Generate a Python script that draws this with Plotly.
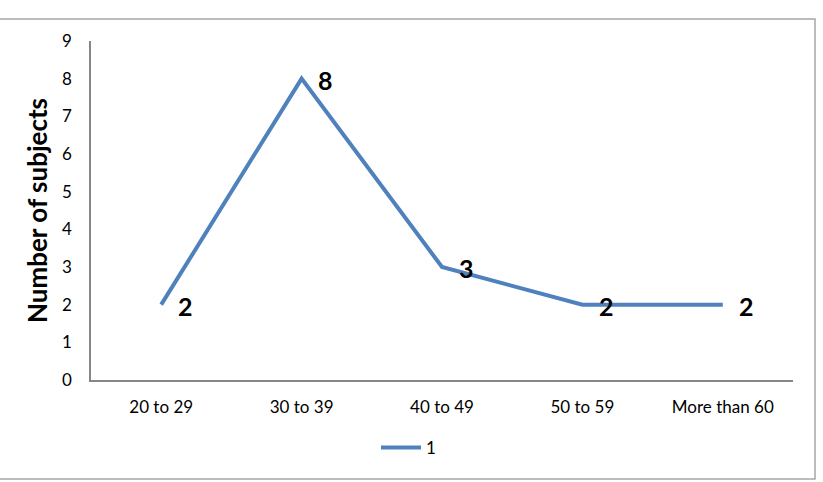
import plotly.graph_objects as go

categories = ["20 to 29", "30 to 39", "40 to 49", "50 to 59", "More than 60"]
values = [2, 8, 3, 2, 2]
series_name = "1"
y_ticks = list(range(0, 10))

W, H = 823, 482
ml, mr, mt, mb = 91, 30, 41, 102

fig = go.Figure()
fig.add_trace(go.Scatter(
    x=categories, y=values, mode="lines", name=series_name,
    line=dict(color="#4F81BD", width=4),
    showlegend=True,
))

for c, v in zip(categories, values):
    fig.add_annotation(x=c, y=v, text=f"<b>{v}</b>", showarrow=False,
                       xshift=24, yshift=-1,
                       font=dict(family="Lato", size=25, color="black"))

# outer border
pw = W - ml - mr
ph = H - mt - mb
fig.add_shape(type="rect", xref="paper", yref="paper",
              x0=(-5 - ml) / pw, x1=(815 - ml) / pw,
              y0=(H - 479 - mb) / ph, y1=(H - 19 - mb) / ph,
              line=dict(color="#A6A6A6", width=1.5), fillcolor="rgba(0,0,0,0)", layer="below")

fig.update_layout(
    width=W, height=H,
    margin=dict(l=ml, r=mr, t=mt, b=mb),
    paper_bgcolor="white", plot_bgcolor="white",
    font=dict(family="Lato", color="#262626"),
    showlegend=True,
    legend=dict(orientation="h", x=(376 - ml) / pw, xanchor="left", y=-68 / ph, yanchor="middle",
                font=dict(size=17, color="black"), itemwidth=40),
)
fig.update_xaxes(
    type="category", range=[-0.5, 4.5], showline=True, linecolor="#868686", linewidth=1.5,
    ticks="", showgrid=False, tickfont=dict(size=17, color="black"), ticklabelstandoff=11,
)
fig.update_yaxes(
    range=[0, 9], tickvals=y_ticks, showline=True, linecolor="#868686", linewidth=1.5,
    ticks="", showgrid=False, zeroline=False, tickfont=dict(size=17, color="black"),
    ticklabelstandoff=14,
    title=dict(text="<b>Number of subjects</b>", font=dict(size=26, color="black"), standoff=7),
)

fig.write_html("out.html")
